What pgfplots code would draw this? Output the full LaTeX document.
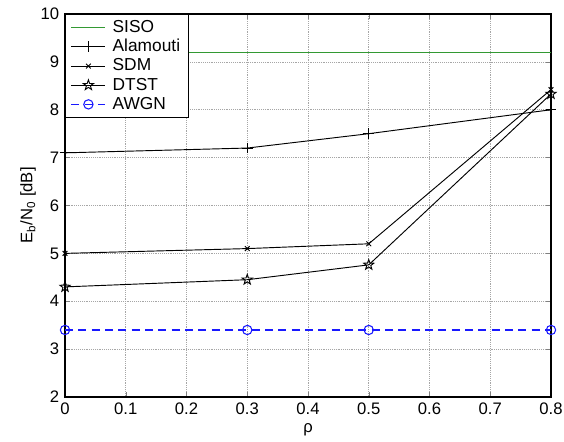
\documentclass[border=0pt]{standalone}
\usepackage{fontspec}
\setmainfont{Liberation Sans}
\usepackage{pgfplots}
\pgfplotsset{compat=1.18}
\pgfdeclareplotmark{pentagram}{%
  \pgfpathmoveto{\pgfqpointpolar{90}{\pgfplotmarksize}}%
  \pgfpathlineto{\pgfqpointpolar{126}{0.4\pgfplotmarksize}}%
  \pgfpathlineto{\pgfqpointpolar{162}{\pgfplotmarksize}}%
  \pgfpathlineto{\pgfqpointpolar{198}{0.4\pgfplotmarksize}}%
  \pgfpathlineto{\pgfqpointpolar{234}{\pgfplotmarksize}}%
  \pgfpathlineto{\pgfqpointpolar{270}{0.4\pgfplotmarksize}}%
  \pgfpathlineto{\pgfqpointpolar{306}{\pgfplotmarksize}}%
  \pgfpathlineto{\pgfqpointpolar{342}{0.4\pgfplotmarksize}}%
  \pgfpathlineto{\pgfqpointpolar{18}{\pgfplotmarksize}}%
  \pgfpathlineto{\pgfqpointpolar{54}{0.4\pgfplotmarksize}}%
  \pgfpathclose\pgfusepathqstroke}
\definecolor{sisog}{rgb}{0.2,0.6,0.2}
\definecolor{awgnb}{rgb}{0.1,0.1,1}
\begin{document}
\fontsize{12.5pt}{15pt}\selectfont
\begin{tikzpicture}
\begin{axis}[
  scale only axis, width=364.5pt, height=287.25pt,
  xmin=0, xmax=0.8, ymin=2, ymax=10,
  xtick={0,0.1,...,0.8}, ytick={2,3,...,10},
  xticklabel style={/pgf/number format/fixed},
  /pgf/number format/assume math mode=true,
  tick align=inside, tick pos=both,
  major tick length=4pt,
  grid=major,
  major grid style={densely dotted, gray!70, line width=0.5pt},
  axis line style={line width=0.8pt},
  ticklabel style={font=\fontsize{12.5pt}{15pt}\selectfont},
  xlabel={ρ}, ylabel={E\textsubscript{b}/N\textsubscript{0} [dB]},
  label style={font=\fontsize{12.5pt}{15pt}\selectfont},
  xlabel style={yshift=2pt},
  ylabel style={yshift=-5pt},
  legend cell align=left,
  legend image code/.code={\draw[mark repeat=2,mark phase=2] plot coordinates {(0cm,0cm) (0.45cm,0cm) (0.9cm,0cm)};},
  legend style={draw=black, line width=0.7pt, inner xsep=4pt, inner ysep=2.5pt, font=\fontsize{13pt}{15pt}\selectfont, at={(0,1)}, anchor=north west, row sep=0pt, nodes={inner ysep=1.7pt}, /tikz/every odd column/.append style={column sep=3pt}},
]
\addplot[color=sisog, draw=sisog, line width=0.8pt, mark=none] coordinates {(0,9.2) (0.8,9.2)};
\addlegendentry{SISO}
\addplot[color=black, line width=0.7pt, mark=+, mark size=4pt] coordinates {(0,7.1) (0.3,7.2) (0.5,7.5) (0.8,8.0)};
\addlegendentry{Alamouti}
\addplot[color=black, line width=0.7pt, mark=x, mark size=2.5pt] coordinates {(0,5.0) (0.3,5.1) (0.5,5.2) (0.8,8.42)};
\addlegendentry{SDM}
\addplot[color=black, line width=0.7pt, mark=pentagram, mark size=4pt] coordinates {(0,4.3) (0.3,4.45) (0.5,4.76) (0.8,8.33)};
\addlegendentry{DTST}
\addplot[color=awgnb, draw=awgnb, line width=0.8pt, dash pattern=on 6pt off 4pt, mark=o, mark size=3.5pt, mark options={solid}] coordinates {(0,3.4) (0.3,3.4) (0.5,3.4) (0.8,3.4)};
\addlegendentry{AWGN}
\end{axis}
\pgfresetboundingbox
\path ([shift={(-48.75pt,-33pt)}]current axis.south west) rectangle ([shift={(9.75pt,10.5pt)}]current axis.north east);
\end{tikzpicture}
\end{document}
